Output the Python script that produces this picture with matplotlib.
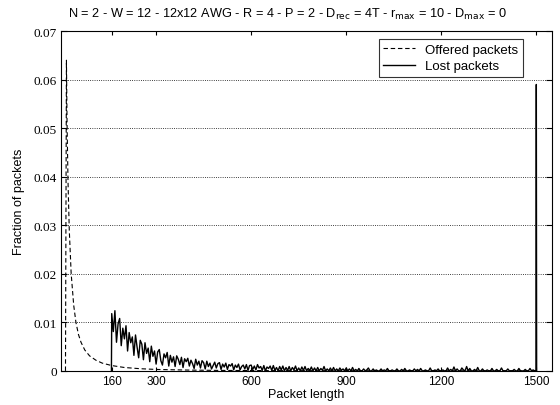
import matplotlib.pyplot as plt
import numpy as np

plt.rcParams['font.family'] = ['Liberation Sans', 'DejaVu Sans']

# offered packets (dashed): packet length -> fraction
offered_len = [14, 17, 19, 22, 26, 32, 40, 47, 55, 63, 75, 90, 110, 130, 160,
               200, 250, 300, 400, 500, 700, 1000, 1500]
offered_val = [0, 0.064, 0.051, 0.039, 0.029, 0.020, 0.0135, 0.010, 0.0075,
               0.0059, 0.0043, 0.0031, 0.0022, 0.0016, 0.0011, 0.0007, 0.00045,
               0.0003, 0.00017, 0.0001, 0.00005, 0.00003, 0.00002]

# lost packets (solid), every 5 bytes from 160 to 1495
lost_val = [
    0.0118, 0.0081, 0.0124, 0.0059, 0.0097, 0.0108, 0.0052, 0.0088, 0.0066, 0.0093,
    0.0041, 0.0079, 0.0058, 0.0070, 0.0032, 0.0074, 0.0049, 0.0027, 0.0063, 0.0055,
    0.0023, 0.0058, 0.0036, 0.0047, 0.0019, 0.0051, 0.0030, 0.0041, 0.0014, 0.0039,
    0.0044, 0.0021, 0.0012, 0.0035, 0.0027, 0.0038, 0.0010, 0.0032, 0.0018, 0.0029,
    0.0009, 0.0031, 0.0024, 0.0013, 0.0028, 0.0007, 0.0025, 0.0019, 0.0026, 0.0010,
    0.0022, 0.0015, 0.0005, 0.0024, 0.0012, 0.0020, 0.0006, 0.0021, 0.0017, 0.0004,
    0.0020, 0.0009, 0.0016, 0.0004, 0.0011, 0.0018, 0.0006, 0.0015, 0.0017, 0.0003,
    0.0014, 0.0008, 0.0016, 0.0003, 0.0013, 0.0010, 0.0015, 0.0002, 0.0012, 0.0007,
    0.0014, 0.0002, 0.0009, 0.0012, 0.0004, 0.0013, 0.0001, 0.0011, 0.0012, 0.0003,
    0.0010, 0.0002, 0.0013, 0.0006, 0.0009, 0.0001, 0.0011, 0.0000, 0.0008, 0.0005,
    0.0010, 0.0001, 0.0011, 0.0001, 0.0007, 0.0000, 0.0009, 0.0002, 0.0010, 0.0000,
    0.0007, 0.0001, 0.0009, 0.0000, 0.0007, 0.0002, 0.0010, 0.0000, 0.0006, 0.0000,
    0.0008, 0.0001, 0.0009, 0.0000, 0.0005, 0.0001, 0.0008, 0.0000, 0.0006, 0.0000,
    0.0007, 0.0000, 0.0005, 0.0001, 0.0009, 0.0000, 0.0004, 0.0000, 0.0006, 0.0000,
    0.0007, 0.0000, 0.0004, 0.0000, 0.0006, 0.0001, 0.0004, 0.0000, 0.0006, 0.0000,
    0.0004, 0.0000, 0.0007, 0.0000, 0.0003, 0.0000, 0.0005, 0.0000, 0.0000, 0.0004,
    0.0000, 0.0002, 0.0006, 0.0000, 0.0000, 0.0004, 0.0000, 0.0002, 0.0000, 0.0000,
    0.0004, 0.0000, 0.0002, 0.0000, 0.0005, 0.0000, 0.0000, 0.0002, 0.0000, 0.0000,
    0.0004, 0.0000, 0.0000, 0.0003, 0.0000, 0.0005, 0.0000, 0.0000, 0.0002, 0.0000,
    0.0000, 0.0004, 0.0000, 0.0003, 0.0000, 0.0005, 0.0000, 0.0000, 0.0002, 0.0000,
    0.0000, 0.0006, 0.0000, 0.0000, 0.0002, 0.0000, 0.0004, 0.0000, 0.0000, 0.0002,
    0.0000, 0.0000, 0.0006, 0.0000, 0.0003, 0.0000, 0.0008, 0.0000, 0.0004, 0.0000,
    0.0000, 0.0006, 0.0002, 0.0000, 0.0009, 0.0000, 0.0005, 0.0000, 0.0000, 0.0003,
    0.0000, 0.0007, 0.0000, 0.0000, 0.0004, 0.0000, 0.0000, 0.0002, 0.0000, 0.0000,
    0.0005, 0.0000, 0.0000, 0.0003, 0.0000, 0.0000, 0.0006, 0.0000, 0.0000, 0.0000,
    0.0004, 0.0000, 0.0000, 0.0000, 0.0003, 0.0000, 0.0000, 0.0005, 0.0000, 0.0000,
    0.0000, 0.0003, 0.0000, 0.0000, 0.0005, 0.0000, 0.0002, 0.0000,
]
lost_len = list(range(160, 1500, 5))
# spike of maximum-size packets
spike_len = [1499, 1500, 1501]
spike_val = [0, 0.059, 0]

xticks = [160, 300, 600, 900, 1200, 1500]
yticks = [0, 0.01, 0.02, 0.03, 0.04, 0.05, 0.06, 0.07]
yticklabels = ['0', '0.01', '0.02', '0.03', '0.04', '0.05', '0.06', '0.07']

fig = plt.figure(figsize=(5.6, 4.06), dpi=100)
ax = fig.add_axes([0.109, 0.084, 0.877, 0.837])

ax.plot(offered_len, offered_val, color='black', lw=0.8,
        linestyle=(0, (4, 2.5)), label='Offered packets')
ax.plot([159] + lost_len + spike_len, [0] + lost_val + spike_val,
        color='black', lw=1.0, label='Lost packets')

ax.set_xlim(0, 1550)
ax.set_ylim(0, 0.07)
ax.set_xticks(xticks)
ax.set_yticks(yticks)
ax.set_yticklabels(yticklabels, family=['Liberation Serif'], fontsize=9.5)
ax.tick_params(axis='x', labelsize=8.5, direction='in', length=3, top=True, pad=3)
ax.tick_params(axis='y', direction='in', length=4, right=True, pad=3)
ax.yaxis.grid(True, linestyle=':', color='black', lw=0.6)
for s in ax.spines.values():
    s.set_linewidth(0.8)

ax.set_xlabel('Packet length', fontsize=9, labelpad=1)
ax.set_ylabel('Fraction of packets', fontsize=9, labelpad=6)
ax.set_title(r'N = 2 - W = 12 - 12x12 AWG - R = 4 - P = 2 - D$_{\rm rec}$ = 4T - '
             r'r$_{\rm max}$ = 10 - D$_{\rm max}$ = 0', fontsize=9.2, pad=10, x=0.46)

leg = ax.legend(loc='upper right', bbox_to_anchor=(0.941, 0.976), fontsize=9.5,
                frameon=True, fancybox=False, handlelength=2.4,
                borderaxespad=0, borderpad=0.35, labelspacing=0.3)
leg.get_frame().set_edgecolor('black')
leg.get_frame().set_linewidth(0.8)

fig.savefig('out.png', dpi=100)
